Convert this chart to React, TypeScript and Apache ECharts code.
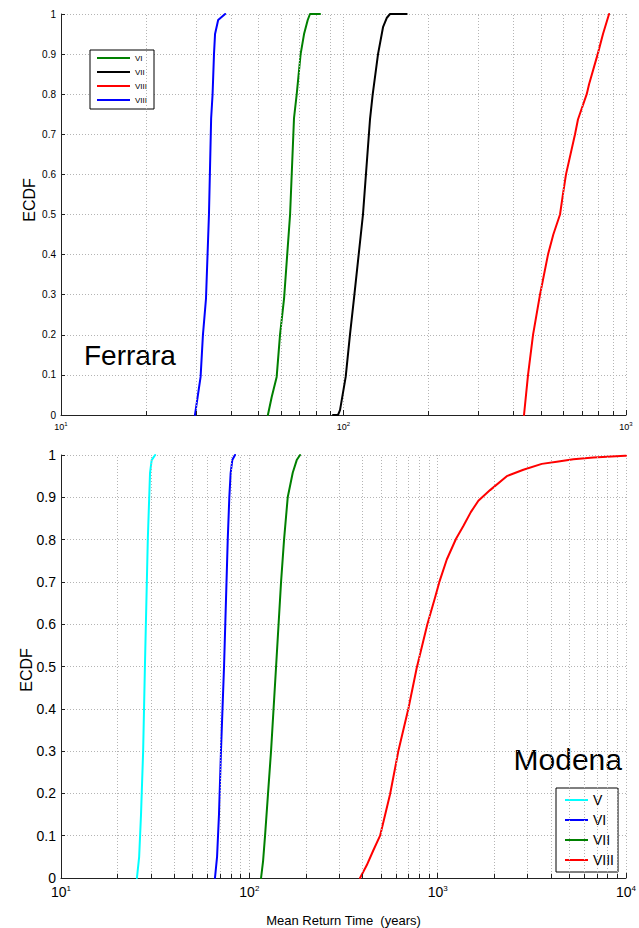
import React, { useEffect, useRef } from "react";
import * as echarts from "echarts";

// ---------- Data ----------
// Ferrara (top panel)
const ferraraVI: [number, number][] = [
  [54.0, 0], [55.7, 0.045], [58.0, 0.095], [59.6, 0.2], [61.6, 0.29], [64.7, 0.5],
  [66.8, 0.74], [68.3, 0.8], [70.5, 0.9], [72.5, 0.95], [74.7, 0.985], [76.1, 1], [82.6, 1],
];
const ferraraVII: [number, number][] = [
  [91.8, 0], [95.6, 0], [97.2, 0.012], [101.8, 0.095], [105.4, 0.2], [108.9, 0.29],
  [117.2, 0.5], [124.1, 0.737], [126.9, 0.8], [132.5, 0.9], [138.0, 0.967], [142.2, 0.99],
  [146.1, 1], [167.4, 1],
];
const ferraraVIIIred: [number, number][] = [
  [435.5, 0], [450, 0.1], [468.7, 0.2], [496.1, 0.3], [529.5, 0.4], [553, 0.45], [584, 0.5],
  [598, 0.55], [613.2, 0.6], [660, 0.7], [676, 0.737], [726, 0.8], [740, 0.825], [794, 0.9],
  [829, 0.95], [871, 1],
];
const ferraraVIIIblue: [number, number][] = [
  [29.8, 0], [31.2, 0.095], [31.8, 0.2], [32.6, 0.29], [33.4, 0.5], [34.0, 0.74],
  [34.4, 0.8], [34.8, 0.9], [35.1, 0.95], [36.0, 0.985], [38.1, 1],
];
// Modena (bottom panel)
const modenaV: [number, number][] = [
  [25.3, 0], [26.0, 0.05], [26.6, 0.15], [27.3, 0.3], [27.9, 0.5], [28.9, 0.8],
  [29.4, 0.9], [29.7, 0.958], [30.3, 0.988], [31.6, 1],
];
const modenaVI: [number, number][] = [
  [65.7, 0], [67.4, 0.05], [69.0, 0.15], [70.7, 0.3], [73.4, 0.5], [76.8, 0.8],
  [78.3, 0.9], [79.6, 0.958], [81.2, 0.988], [83.9, 1],
];
const modenaVII: [number, number][] = [
  [115.4, 0], [118.3, 0.04], [121.2, 0.1], [125.7, 0.2], [130.4, 0.3], [138.7, 0.5],
  [147.4, 0.7], [152.9, 0.8], [159.9, 0.9], [170.0, 0.958], [178.5, 0.988], [185.9, 1],
];
const modenaVIII: [number, number][] = [
  [387.1, 0], [420, 0.03], [455, 0.065], [494.6, 0.1], [558.8, 0.198], [618.4, 0.3],
  [698.9, 0.4], [774.5, 0.497], [881.7, 0.6], [968.7, 0.663], [1021, 0.7], [1118, 0.753],
  [1252, 0.802], [1369, 0.832], [1500, 0.865], [1645, 0.892], [1898, 0.917], [2328, 0.95],
  [2852, 0.965], [3572, 0.979], [4291, 0.984], [5256, 0.99], [6712, 0.994], [9890, 0.998],
  [10000, 0.998],
];

const topLegend = ["VI", "VII", "VIII", "VIII"];
const bottomLegend = ["V", "VI", "VII", "VIII"];
const topDecades = [10, 100, 1000];
const bottomDecades = [10, 100, 1000, 10000];

const FONT = "'Liberation Sans', Arial, Helvetica, sans-serif";
const GRID_COLOR = "#b4b4b4";

function minorValues(decades: number[]): number[] {
  const out: number[] = [];
  for (let d = 0; d < decades.length - 1; d++) {
    for (let k = 2; k <= 9; k++) out.push(decades[d] * k);
  }
  return out;
}

export default function App() {
  const ref = useRef<HTMLDivElement>(null);
  useEffect(() => {
    if (!ref.current) return;
    const chart = echarts.init(ref.current, undefined, { renderer: "svg" });

    const topMinor = minorValues(topDecades);
    const bottomMinor = minorValues(bottomDecades);

    const gridLine = (vals: number[]) => vals.map((v) => ({ xAxis: v }));
    const tickLine = (vals: number[]) =>
      vals.map((v) => [{ coord: [v, 0] }, { coord: [v, 0.01] }]);

    const xLabel = (size: number, sup: number) => ({
      color: "#000",
      fontFamily: FONT,
      margin: 6,
      formatter: (v: number) => `{b|10}{s|${Math.round(Math.log10(v))}}`,
      rich: {
        b: { fontSize: size, fontFamily: FONT, color: "#000", lineHeight: size + 2 },
        s: { fontSize: sup, fontFamily: FONT, color: "#000", verticalAlign: "top", lineHeight: size + 2 },
      },
    });

    const xAxisBase = (gridIndex: number, max: number, size: number, sup: number) => ({
      type: "log",
      logBase: 10,
      gridIndex,
      min: 10,
      max,
      axisLine: { lineStyle: { color: "#222", width: 1 } },
      axisTick: { inside: true, length: 5, lineStyle: { color: "#222" } },
      splitLine: { show: true, lineStyle: { color: GRID_COLOR, type: [1, 2], width: 1 } },
      axisLabel: xLabel(size, sup),
    });

    const yAxisBase = (gridIndex: number, size: number) => ({
      type: "value",
      gridIndex,
      min: 0,
      max: 1,
      interval: 0.1,
      axisLine: { show: true, lineStyle: { color: "#222", width: 1 } },
      axisTick: { show: true, inside: true, length: 4, lineStyle: { color: "#222" } },
      splitLine: { show: true, lineStyle: { color: GRID_COLOR, type: [1, 2], width: 1 } },
      axisLabel: { fontSize: size, color: "#000", fontFamily: FONT, margin: 5 },
    });

    const lineSeries = (name: string, data: [number, number][], color: string, idx: number) => ({
      type: "line",
      name,
      xAxisIndex: idx,
      yAxisIndex: idx,
      data,
      showSymbol: false,
      symbol: "none",
      z: 3,
      lineStyle: { color, width: 2, join: "round", cap: "round" },
      itemStyle: { color },
      clip: false,
    });

    const helperSeries = (idx: number, minor: number[]) => ({
      type: "line",
      name: "helper" + idx,
      xAxisIndex: idx,
      yAxisIndex: idx,
      data: [],
      z: 1,
      silent: true,
      markLine: {
        silent: true,
        symbol: ["none", "none"],
        label: { show: false },
        animation: false,
        data: [
          ...gridLine(minor).map((d) => ({
            ...d,
            lineStyle: { color: GRID_COLOR, type: [1, 2], width: 1 },
          })),
          ...tickLine(minor).map((pair) => [
            { ...pair[0], lineStyle: { color: "#222", type: "solid", width: 1 } },
            pair[1],
          ]),
        ],
      },
    });

    const legendBase = {
      orient: "vertical",
      icon: "rect",
      selectedMode: false,
      borderColor: "#000",
      borderWidth: 1,
      backgroundColor: "#fff",
      formatter: (n: string) => n.split("|")[1],
    };

    chart.setOption({
      animation: false,
      backgroundColor: "#fff",
      grid: [
        { left: 61, right: 13, top: 14, height: 401 },
        { left: 61, right: 13, top: 455, height: 424 },
      ],
      xAxis: [
        xAxisBase(0, 1000, 9, 6),
        {
          ...xAxisBase(1, 10000, 14, 8),
          name: "Mean Return Time  (years)",
          nameLocation: "middle",
          nameGap: 36,
          nameTextStyle: { fontSize: 13, color: "#000", fontFamily: FONT },
        },
      ],
      yAxis: [yAxisBase(0, 10), yAxisBase(1, 14)],
      legend: [
        {
          ...legendBase,
          data: topLegend.map((n, i) => `f${i}|${n}`),
          left: 90,
          top: 50,
          itemWidth: 33,
          itemHeight: 2,
          itemGap: 4,
          padding: [3, 7, 4, 7],
          textStyle: { fontSize: 8, lineHeight: 10, color: "#000", fontFamily: FONT },
        },
        {
          ...legendBase,
          data: bottomLegend.map((n, i) => `m${i}|${n}`),
          left: 556,
          top: 788,
          itemWidth: 23,
          itemHeight: 2,
          itemGap: 4,
          padding: [4, 4, 4, 9],
          textStyle: { fontSize: 14, lineHeight: 16, color: "#000", fontFamily: FONT },
        },
      ],
      series: [
        helperSeries(0, topMinor),
        helperSeries(1, bottomMinor),
        lineSeries(`f0|${topLegend[0]}`, ferraraVI, "#008000", 0),
        lineSeries(`f1|${topLegend[1]}`, ferraraVII, "#000000", 0),
        lineSeries(`f2|${topLegend[2]}`, ferraraVIIIred, "#ff0000", 0),
        lineSeries(`f3|${topLegend[3]}`, ferraraVIIIblue, "#0000ff", 0),
        lineSeries(`m0|${bottomLegend[0]}`, modenaV, "#00ffff", 1),
        lineSeries(`m1|${bottomLegend[1]}`, modenaVI, "#0000ff", 1),
        lineSeries(`m2|${bottomLegend[2]}`, modenaVII, "#008000", 1),
        lineSeries(`m3|${bottomLegend[3]}`, modenaVIII, "#ff0000", 1),
      ],
      graphic: [
        {
          type: "text",
          x: 29,
          y: 200,
          rotation: Math.PI / 2,
          style: { text: "ECDF", fontSize: 16, fontFamily: FONT, fill: "#000", align: "center", verticalAlign: "middle" },
        },
        {
          type: "text",
          x: 26,
          y: 670,
          rotation: Math.PI / 2,
          style: { text: "ECDF", fontSize: 16, fontFamily: FONT, fill: "#000", align: "center", verticalAlign: "middle" },
        },
        {
          type: "text",
          x: 84,
          y: 355,
          style: { text: "Ferrara", fontSize: 28, fontFamily: FONT, fill: "#000", align: "left", verticalAlign: "middle" },
        },
        {
          type: "text",
          x: 622,
          y: 759,
          style: { text: "Modena", fontSize: 30, fontFamily: FONT, fill: "#000", align: "right", verticalAlign: "middle" },
        },
      ],
    });
    return () => chart.dispose();
  }, []);
  return (
    <div
      ref={ref}
      style={{ position: "absolute", left: 0, top: 0, width: 639, height: 928, background: "#fff" }}
    />
  );
}
